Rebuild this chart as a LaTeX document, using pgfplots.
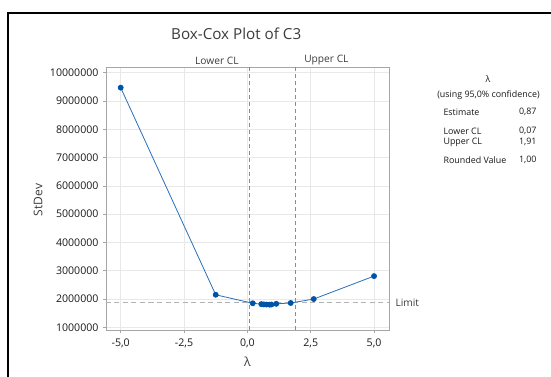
\documentclass[border=0pt]{standalone}
\usepackage{fontspec}
\setmainfont{Open Sans}
\usepackage{pgfplots}
\pgfplotsset{compat=1.18}
\definecolor{mblue}{RGB}{0,84,166}
\definecolor{lblue}{RGB}{40,110,190}
\definecolor{txt}{RGB}{25,25,25}
\definecolor{gtxt}{RGB}{60,60,60}
\begin{document}
\begin{tikzpicture}
\useasboundingbox (-106pt,-46pt) rectangle (445pt,330pt);
\begin{axis}[
  anchor=south west, at={(0pt,0pt)},
  scale only axis, width=283pt, height=263pt,
  xmin=-5.58, xmax=5.59, ymin=0.905e6, ymax=10.2e6,
  clip=false, scaled y ticks=false, scaled x ticks=false,
  /pgf/number format/assume math mode=true,
  axis line style={draw=gray!70, line width=0.8pt},
  grid=major, major grid style={draw=gray!18, line width=0.6pt},
  tick align=outside, tick pos=left, major tick length=3pt,
  tick style={draw=gray!70, line width=0.6pt},
  xtick={-5,-2.5,0,2.5,5},
  xticklabels={{-5,0},{-2,5},{0,0},{2,5},{5,0}},
  ytick={1000000,2000000,3000000,4000000,5000000,6000000,7000000,8000000,9000000,10000000},
  yticklabels={1000000,2000000,3000000,4000000,5000000,6000000,7000000,8000000,9000000,10000000},
  ticklabel style={font=\fontsize{10.6}{12}\selectfont, text=txt},
  xticklabel style={yshift=-2pt},
  yticklabel style={xshift=-1pt},
  title={Box-Cox Plot of C3},
  title style={font=\fontsize{15.2}{17}\selectfont, text=gtxt, at={(axis description cs:0.46,1)}, yshift=18pt},
]
\addplot[gray!60, line width=1.1pt, dash pattern=on 5pt off 3.5pt, forget plot] coordinates {(-5.58,1.88e6) (5.59,1.88e6)};
\addplot[gray!90, line width=0.6pt, dash pattern=on 4pt off 3pt, forget plot] coordinates {(0.07,0.905e6) (0.07,10.2e6)};
\addplot[gray!90, line width=0.6pt, dash pattern=on 4pt off 3pt, forget plot] coordinates {(1.91,0.905e6) (1.91,10.2e6)};
\addplot[lblue, line width=0.8pt, mark=*, mark size=2.5pt, mark options={fill=mblue, draw=mblue}] coordinates {
(-5,9.47e6) (-1.25,2.15e6) (0.21,1.85e6) (0.55,1.82e6) (0.65,1.81e6) (0.75,1.805e6) (0.87,1.80e6) (0.95,1.805e6) (1.14,1.83e6) (1.71,1.86e6) (2.62,2.0e6) (5,2.81e6)};
\node[anchor=east, font=\fontsize{10.2}{12}\selectfont, text=gtxt, xshift=-7pt] at (axis cs:0.07,10.43e6) {Lower CL};
\node[anchor=west, font=\fontsize{10.2}{12}\selectfont, text=gtxt, xshift=5pt] at (axis cs:1.91,10.43e6) {Upper CL};
\node[anchor=west, font=\fontsize{10.2}{12}\selectfont, text=gtxt, xshift=3pt] at (axis cs:5.59,1.88e6) {Limit};
\end{axis}
\begin{scope}[shift={(-106pt,-46pt)}, x=1pt, y=1pt]
\draw[black,line width=2.5pt] (8,-2) -- (8,363) -- (553,363);
\node[rotate=90, font=\fontsize{12}{14}\selectfont, text=gtxt] at (38,176) {StDev};
\node[font=\fontsize{12.5}{14}\selectfont, text=gtxt] at (247.5,14) {λ};
\begin{scope}[font=\fontsize{8.9}{10}\selectfont, text=txt]
\node at (488,297) {λ};
\node at (488.5,281) {(using 95,0\% confidence)};
\node[anchor=west] at (440,264) {Estimate};
\node[anchor=east] at (540,264) {0,87};
\node[anchor=west] at (440,245) {Lower CL};
\node[anchor=east] at (540,245) {0,07};
\node[anchor=west] at (440,234) {Upper CL};
\node[anchor=east] at (540,234) {1,91};
\node[anchor=west] at (440,216) {Rounded Value};
\node[anchor=east] at (540,216) {1,00};
\end{scope}
\end{scope}
\end{tikzpicture}
\end{document}
